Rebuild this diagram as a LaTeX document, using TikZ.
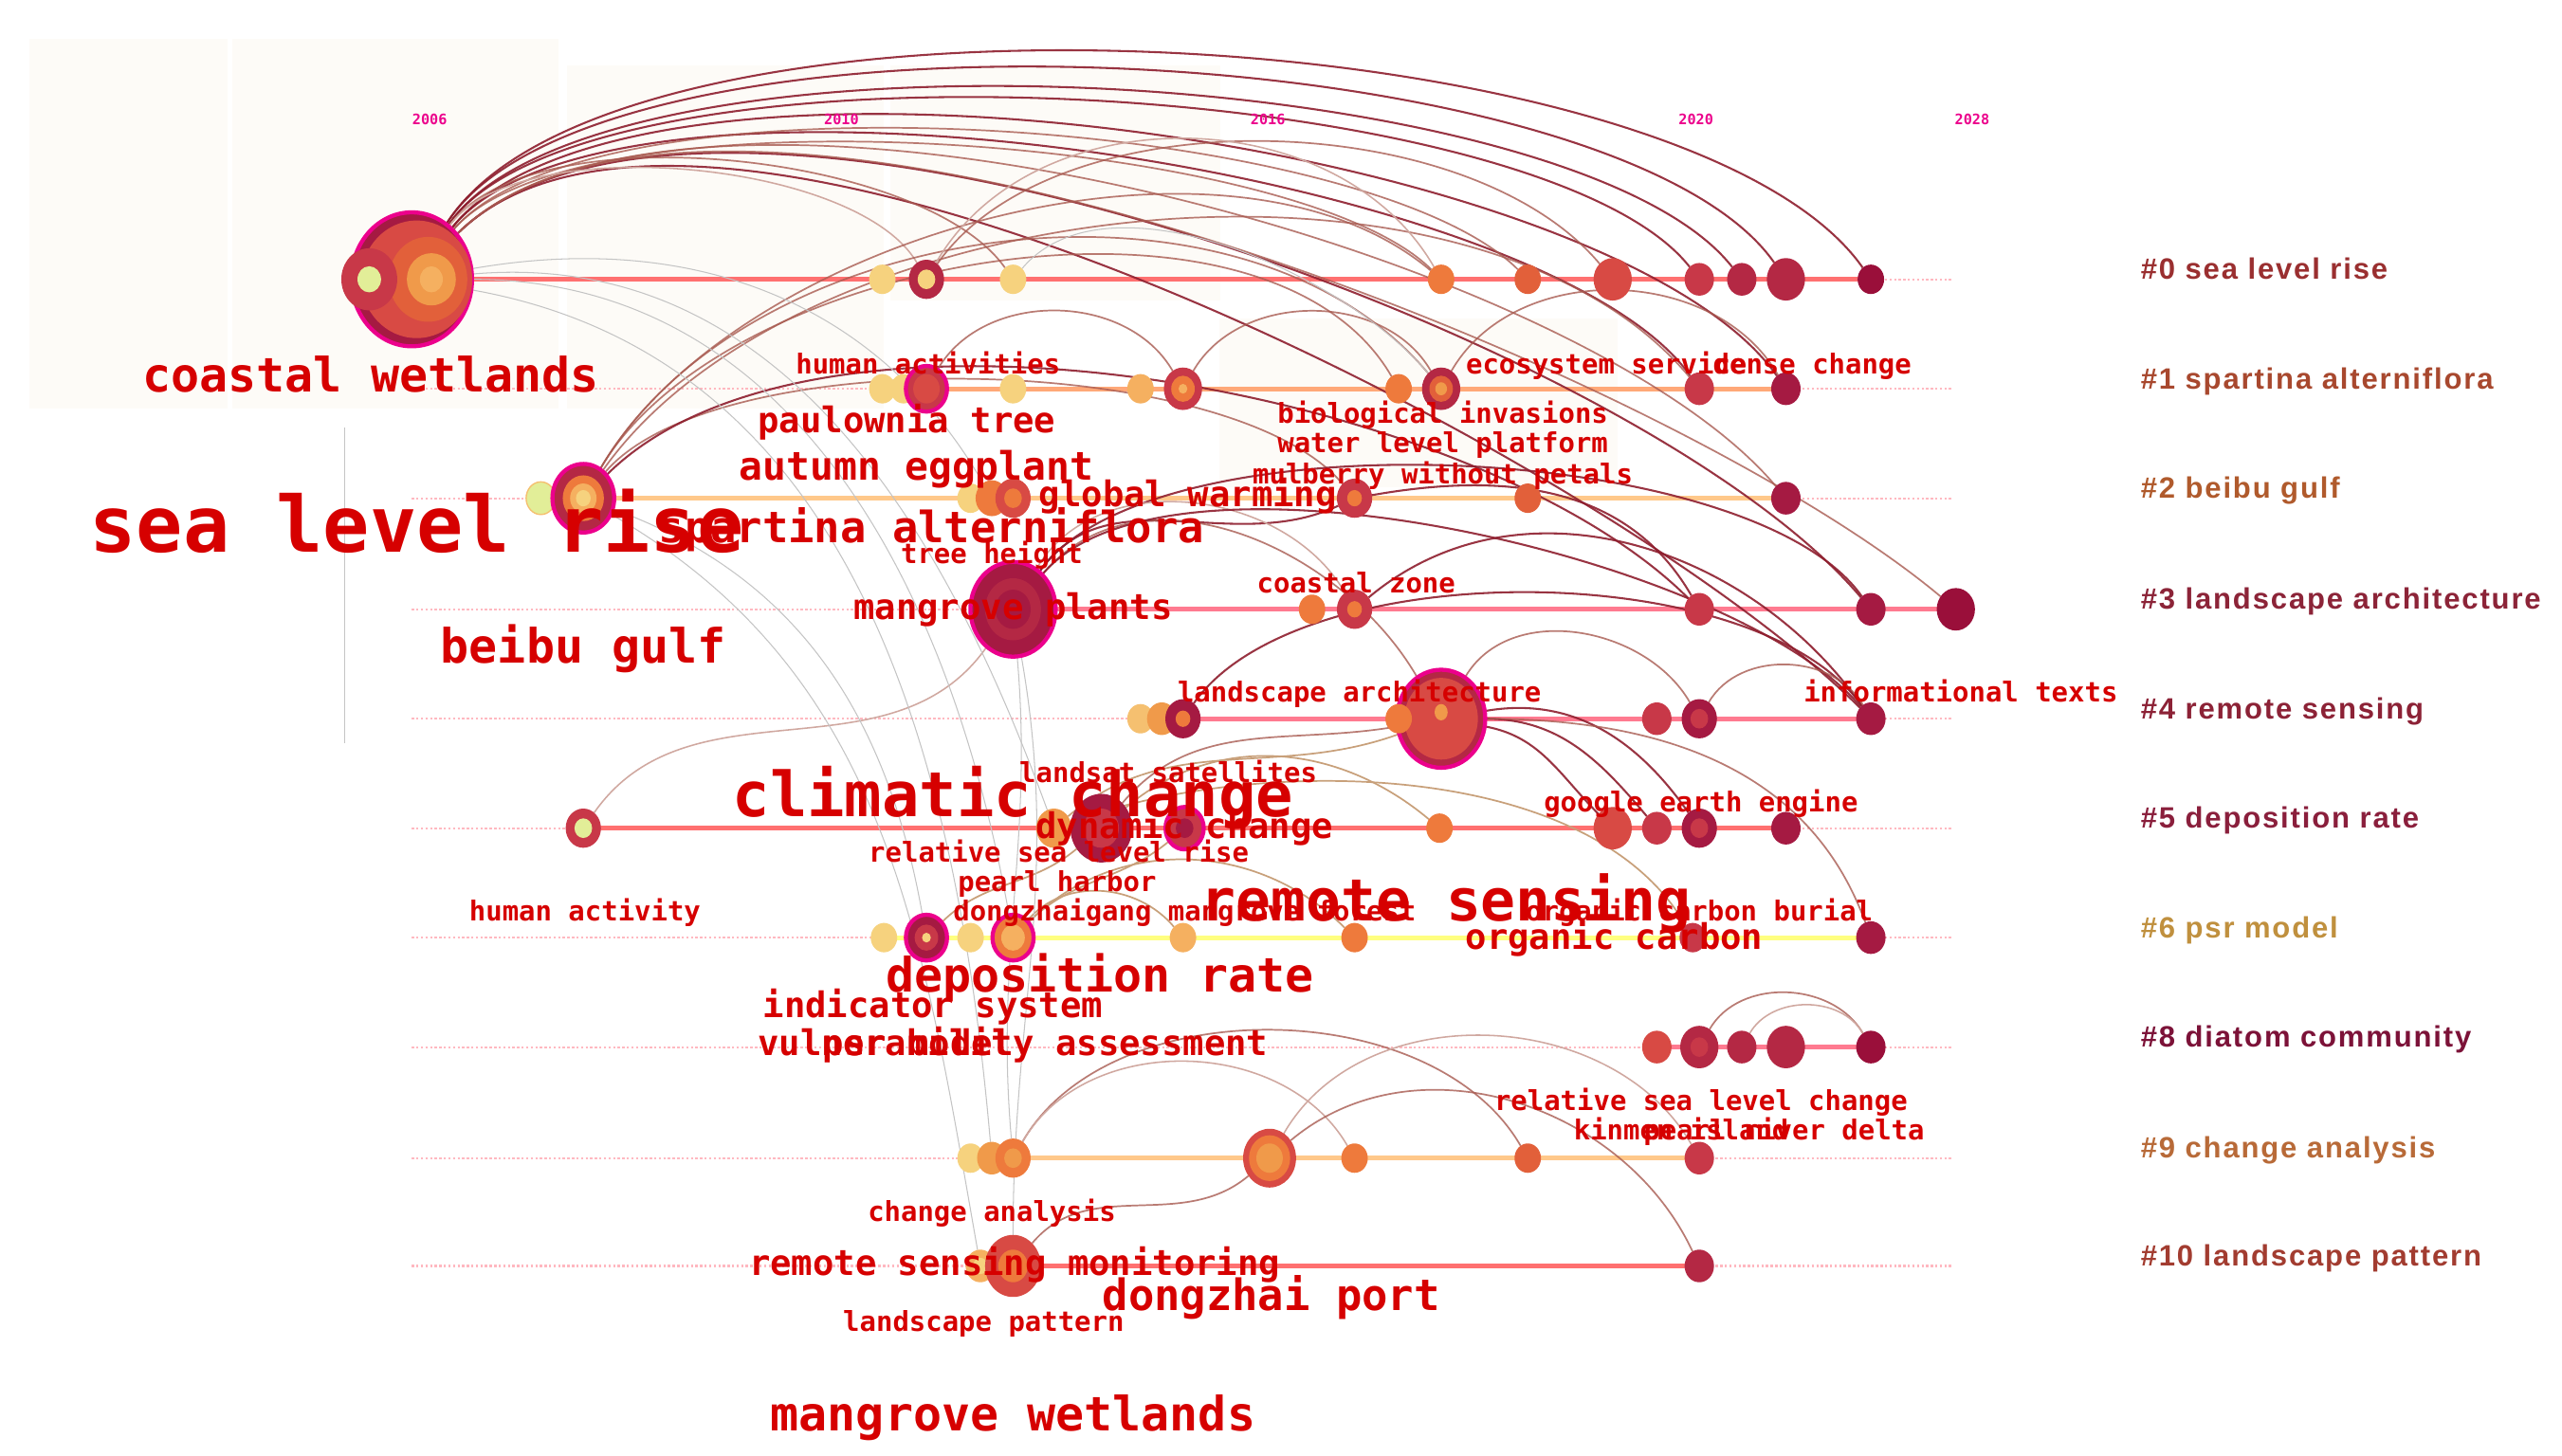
\documentclass[tikz,border=0pt]{standalone}
\usepackage{fontspec}
\usetikzlibrary{shapes.geometric}
\newfontfamily\kwf{DejaVu Sans Mono}
\newfontfamily\clf{Liberation Sans}[LetterSpace=6]
\pgfdeclarelayer{back}\pgfdeclarelayer{arcs}
\pgfsetlayers{back,arcs,main}
\definecolor{cream}{HTML}{FDFBF7}
\definecolor{yel}{HTML}{F6D27E}
\definecolor{yel2}{HTML}{F5C070}
\definecolor{lgr}{HTML}{E2EE98}
\definecolor{org}{HTML}{EE7A3C}
\definecolor{org2}{HTML}{F09A4A}
\definecolor{org3}{HTML}{F5B060}
\definecolor{ored}{HTML}{E2603A}
\definecolor{red1}{HTML}{D84A44}
\definecolor{red2}{HTML}{C83848}
\definecolor{crim}{HTML}{B42844}
\definecolor{crim2}{HTML}{A51A42}
\definecolor{crim3}{HTML}{9A0F3A}
\definecolor{kwred}{HTML}{D60000}
\definecolor{cdk}{HTML}{8E1E2E}
\definecolor{cmd}{HTML}{A85A50}
\definecolor{clt}{HTML}{D0A8A0}
\definecolor{ctan}{HTML}{C8A07A}
\definecolor{cgy}{HTML}{C4C4C4}
\definecolor{cdot}{HTML}{FFB8C0}
\definecolor{tlr}{HTML}{FF7070}
\definecolor{tlo}{HTML}{FFA878}
\definecolor{tll}{HTML}{FFC88A}
\definecolor{tlp}{HTML}{FF7A90}
\definecolor{tly}{HTML}{FFFF80}
\definecolor{c0}{HTML}{9A2F30}
\definecolor{c1}{HTML}{A8482E}
\definecolor{c2}{HTML}{B05A2C}
\definecolor{c3}{HTML}{8C2438}
\definecolor{c4}{HTML}{8C2236}
\definecolor{c5}{HTML}{8A1F3C}
\definecolor{c6}{HTML}{C0903E}
\definecolor{c8}{HTML}{7C1238}
\definecolor{c9}{HTML}{B86A38}
\definecolor{c10}{HTML}{A23C30}
\newcommand\fsz[1]{\fontsize{#1}{#1}\selectfont}
\tikzset{
 nd/.style={ellipse,inner sep=0,outer sep=0},
 kw/.style={text=kwred,inner sep=0,anchor=base},
 ks/.style={kw,font=\kwf\bfseries\fsz{16.8}},
 km/.style={kw,font=\kwf\bfseries\fsz{21.6}},
 kml/.style={kw,font=\kwf\bfseries\fsz{24}},
 kl/.style={kw,font=\kwf\bfseries\fsz{26.4}},
 kxl/.style={kw,font=\kwf\bfseries\fsz{29}},
 cl/.style={anchor=base west,inner sep=0,font=\clf\bfseries\fsz{18}},
 yr/.style={text=magenta,inner sep=0,font=\kwf\bfseries\fsz{8.8}},
 adk/.style={draw=cdk,line width=1.2pt,draw opacity=.9},
 amd/.style={draw=cmd,line width=1pt,draw opacity=.8},
 alt/.style={draw=clt,line width=.9pt},
 atan/.style={draw=ctan,line width=1pt},
 agy/.style={draw=cgy,line width=.6pt},
 dotl/.style={draw=cdot,line width=1.2pt,dash pattern=on 1.4pt off 1.4pt},
 tl/.style={line width=3pt},
}
\newcommand\nd[5]{\node[nd,fill=#5,minimum width=1.8*#4pt,minimum height=2*#4pt] (#1) at (#2,#3) {};}
\newcommand\ndm[5]{\node[nd,fill=#5,draw=magenta,line width=2.5pt,minimum width=1.8*#4pt,minimum height=2*#4pt] (#1) at (#2,#3) {};}
\newcommand\cn[3]{\fill[#3] (#1) ellipse[x radius=0.9*#2pt,y radius=#2pt];}
\begin{document}
\begin{tikzpicture}[x=1pt,y=-1pt]
\useasboundingbox (0,0) rectangle (1568,891);
\begin{pgfonlayer}{back}
\fill[white] (0,0) rectangle (1568,891);
\fill[cream] (18,24) rectangle (139,250);
\fill[cream] (142,24) rectangle (342,250);
\fill[cream] (347,40) rectangle (541,250);
\fill[cream] (545,40) rectangle (747,184);
\fill[cream] (746,195) rectangle (990,298);
\draw[cgy,line width=.8pt] (211,262) -- (211,455);
\foreach \yy in {171,238,305,373,440,507,574,641,709,775}
  \draw[dotl] (252,\yy) -- (1195,\yy);
\end{pgfonlayer}
% year labels
\node[yr] (y2006) at (263,73) {2006};
\node[yr] (y2010) at (515,73) {2010};
\node[yr] (y2016) at (776,73) {2016};
\node[yr] (y2020) at (1038,73) {2020};
\node[yr] (y2028) at (1207,73) {2028};
% ---------- nodes row 0
\ndm{cw}{252}{171}{41}{crim2}
\fill[red1] (255,171) ellipse[x radius=34pt,y radius=36pt];
\fill[ored] (262,171) ellipse[x radius=24pt,y radius=26pt];
\fill[org2] (264,171) ellipse[x radius=15pt,y radius=16pt];
\fill[org3] (264,171) ellipse[x radius=7pt,y radius=8pt];
\nd{cw2}{226}{171}{19}{red2}
\cn{cw2}{8}{lgr}
\nd{a0a}{540}{171}{9}{yel}
\nd{a0b}{567}{171}{12}{crim}\cn{a0b}{6}{yel}
\nd{a0c}{620}{171}{9}{yel}
\nd{a0d}{882}{171}{9}{org}
\nd{a0e}{935}{171}{9}{ored}
\nd{a0f}{987}{171}{13}{red1}
\nd{a0g}{1040}{171}{10}{red2}
\nd{a0h}{1066}{171}{10}{crim}
\nd{a0i}{1093}{171}{13}{crim}
\nd{a0j}{1145}{171}{9}{crim3}
% row 1
\nd{a1a}{540}{238}{9}{yel}
\nd{a1b}{553}{238}{9}{yel}
\ndm{a1c}{567}{238}{14}{red2}\cn{a1c}{9}{red1}
\nd{a1d}{620}{238}{9}{yel}
\nd{a1e}{698}{238}{9}{org3}
\nd{a1f}{724}{238}{13}{red2}\cn{a1f}{8}{org}\cn{a1f}{3}{org3}
\nd{a1g}{856}{238}{9}{org}
\nd{a1h}{882}{238}{13}{crim}\cn{a1h}{8}{ored}\cn{a1h}{4}{org2}
\nd{a1i}{1040}{238}{10}{red2}
\nd{a1j}{1093}{238}{10}{crim2}
% row 2
\node[nd,fill=lgr,draw=yel2,line width=.8pt,minimum width=18pt,minimum height=20pt] (a2a) at (331,305) {};
\ndm{slr}{357}{305}{21}{crim}
\cn{slr}{14}{org}\cn{slr}{9}{org3}\cn{slr}{5}{yel}
\nd{a2c}{594}{305}{9}{yel}
\nd{a2d}{607}{305}{11}{org}
\nd{a2e}{620}{305}{12}{red1}\cn{a2e}{6}{org}
\nd{a2f}{829}{305}{12}{red2}\cn{a2f}{5}{org}
\nd{a2g}{935}{305}{9}{ored}
\nd{a2h}{1093}{305}{10}{crim2}
% row 3
\ndm{mp}{620}{373}{29}{crim2}
\cn{mp}{19}{crim}\cn{mp}{12}{crim2}
\nd{a3b}{803}{373}{9}{org}
\nd{a3c}{829}{373}{12}{red2}\cn{a3c}{5}{org}
\nd{a3d}{1040}{373}{10}{red2}
\nd{a3e}{1145}{373}{10}{crim2}
\nd{a3f}{1197}{373}{13}{crim3}
% row 4
\nd{a4a}{698}{440}{9}{yel2}
\nd{a4b}{711}{440}{10}{org2}
\nd{a4c}{724}{440}{12}{crim2}\cn{a4c}{5}{org}
\ndm{rs}{882}{440}{30}{crim}
\cn{rs}{25}{red1}\fill[org2] (882,436) ellipse[x radius=4pt,y radius=5pt];
\nd{a4d}{856}{440}{9}{org}
\nd{a4f}{1014}{440}{10}{red2}
\nd{a4g}{1040}{440}{12}{crim2}\cn{a4g}{6}{red2}
\nd{a4h}{1145}{440}{10}{crim2}
% row 5
\nd{a5a}{357}{507}{12}{red2}\cn{a5a}{6}{lgr}
\nd{cc}{674}{507}{21}{crim2}\cn{cc}{12}{red2}
\nd{a5b}{645}{507}{12}{org2}
\ndm{a5d}{725}{507}{13}{red2}\cn{a5d}{6}{crim2}
\nd{a5e}{881}{507}{9}{org}
\nd{a5f}{987}{507}{13}{red1}
\nd{a5g}{1014}{507}{10}{red2}
\nd{a5h}{1040}{507}{12}{crim2}\cn{a5h}{6}{red2}
\nd{a5i}{1093}{507}{10}{crim2}
% row 6
\nd{a6a}{541}{574}{9}{yel}
\ndm{a6b}{567}{574}{14}{crim2}\cn{a6b}{8}{red2}\cn{a6b}{3}{yel}
\nd{a6c}{594}{574}{9}{yel}
\ndm{a6d}{620}{574}{14}{org}\cn{a6d}{8}{org3}
\nd{a6e}{724}{574}{9}{org3}
\nd{a6f}{829}{574}{9}{org}
\nd{a6g}{1036}{574}{9}{red2}
\nd{a6h}{1145}{574}{10}{crim2}
% row 8
\nd{a8a}{1014}{641}{10}{red1}
\nd{a8b}{1040}{641}{13}{crim}\cn{a8b}{6}{red2}
\nd{a8c}{1066}{641}{10}{crim}
\nd{a8d}{1093}{641}{13}{crim}
\nd{a8e}{1145}{641}{10}{crim3}
% row 9
\nd{a9a}{594}{709}{9}{yel}
\nd{a9b}{607}{709}{10}{org2}
\nd{a9c}{620}{709}{12}{org}\cn{a9c}{6}{org2}
\nd{a9d}{777}{709}{18}{red1}\cn{a9d}{14}{org}\cn{a9d}{9}{org2}
\nd{a9e}{829}{709}{9}{org}
\nd{a9f}{935}{709}{9}{ored}
\nd{a9g}{1040}{709}{10}{red2}
% row 10
\nd{a10a}{600}{775}{10}{org3}\cn{a10a}{5}{yel}
\nd{a10b}{620}{775}{19}{red1}\cn{a10b}{10}{org}
\nd{a10c}{1040}{775}{10}{crim}
% ---------- timelines
\begin{pgfonlayer}{back}
\draw[tl,tlr] (cw.center) -- (a0j.center);
\draw[tl,tlo] (a1a.center) -- (a1j.center);
\draw[tl,tll] (slr.center) -- (a2h.center);
\draw[tl,tlp] (mp.center) -- (a3f.center);
\draw[tl,tlp] (a4a.center) -- (a4h.center);
\draw[tl,tlr] (a5a.center) -- (a5i.center);
\draw[tl,tly] (a6a.center) -- (a6h.center);
\draw[tl,tlp] (a8a.center) -- (a8e.center);
\draw[tl,tll] (a9a.center) -- (a9g.center);
\draw[tl,tlr] (a10a.center) -- (a10c.center);
\end{pgfonlayer}
% ---------- arcs
\begin{pgfonlayer}{arcs}
\draw[adk] (cw) to[out=58,in=125,looseness=.56] (a0j);
\draw[adk] (cw) to[out=58,in=125,looseness=.54] (a0i);
\draw[adk] (cw) to[out=56,in=128,looseness=.52] (a0h);
\draw[adk] (cw) to[out=56,in=128,looseness=.5] (a0g);
\draw[adk] (cw) to[out=52,in=125,looseness=.55] (a1j);
\draw[adk] (cw) to[out=52,in=125,looseness=.52] (a1i);
\draw[adk] (cw) to[out=45,in=130,looseness=.6] (a3e);
\draw[adk] (cw) to[out=45,in=135,looseness=.6] (a4h);
\draw[amd] (cw) to[out=45,in=140,looseness=.6] (a3f);
\draw[amd] (cw) to[out=50,in=135,looseness=.52] (a0e);
\draw[amd] (cw) to[out=50,in=135,looseness=.5] (a0d);
\draw[amd] (cw) to[out=45,in=130,looseness=.6] (a2h);
\draw[amd] (cw) to[out=55,in=125,looseness=.65] (a0c);
\draw[alt] (cw) to[out=55,in=120,looseness=.65] (a0b);
\draw[amd] (a0b) to[out=55,in=130,looseness=.8] (a0f);
\draw[amd] (slr) to[out=60,in=130,looseness=.9] (a1h);
\draw[amd] (slr) to[out=60,in=120,looseness=.8] (a1g);
\draw[amd] (slr) to[out=60,in=140,looseness=.8] (a0d);
\draw[amd] (slr) to[out=55,in=130,looseness=.8] (a1i);
\draw[amd] (slr) to[out=50,in=130,looseness=.6] (a2f);
\draw[adk] (slr) to[out=45,in=135,looseness=.7] (a3d);
\draw[amd] (a1c) to[out=60,in=120] (a1f);
\draw[amd] (a1f) to[out=60,in=120] (a1h);
\draw[amd] (a1h) to[out=60,in=120] (a1j);
\draw[alt] (a0b) to[out=60,in=120] (a0d);
\draw[adk] (mp) to[out=55,in=205] (a2f);
\draw[adk] (a2f) to[out=10,in=120] (a3d);
\draw[adk] (a3c) to[out=40,in=125] (a4h);
\draw[adk] (mp) to[out=55,in=125,looseness=.6] (a3e);
\draw[alt] (mp) to[out=60,in=120] (a3c);
\draw[amd] (mp) to[out=50,in=120] (rs);
\draw[adk] (mp) to[out=50,in=130,looseness=.6] (a4h);
\draw[adk] (a4c) to[out=55,in=125,looseness=.7] (a4h);
\draw[amd] (rs) to[out=60,in=120] (a4g);
\draw[amd] (a4g) to[out=60,in=120] (a4h);
\draw[adk] (rs) to[out=-10,in=135] (a5f);
\draw[adk] (rs) to[out=0,in=130] (a5g);
\draw[adk] (rs) to[out=10,in=125] (a5h);
\draw[amd] (rs) to[out=0,in=110] (a6h);
\draw[amd] (cc) to[out=50,in=190] (rs);
\draw[atan] (a5b) to[out=40,in=200] (rs);
\draw[atan] (cc) to[out=40,in=140] (a5e);
\draw[alt] (a5a) to[out=55,in=235] (mp);
\draw[atan] (a6d) to[out=45,in=135] (a6f);
\draw[atan] (a6b) to[out=45,in=220] (cc);
\draw[atan] (a6d) to[out=45,in=220] (a5d);
\draw[atan] (a5b) to[out=20,in=120,looseness=.8] (a6g);
\draw[atan] (a6d) to[out=50,in=130] (a6e);
\draw[amd] (a8b) to[out=60,in=120] (a8e);
\draw[alt] (a8c) to[out=60,in=120] (a8e);
\draw[amd] (a9c) to[out=60,in=120,looseness=.9] (a9f);
\draw[alt] (a9c) to[out=60,in=120] (a9e);
\draw[alt] (a9d) to[out=60,in=120] (a9g);
\draw[amd] (a9d) to[out=40,in=115] (a10c);
\draw[amd] (a10b) to[out=50,in=220] (a9d);
\draw[agy] (cw) to[out=0,in=100] (a6d);
\draw[agy] (cw) to[out=5,in=110] (a5b);
\draw[agy] (cw) to[out=-10,in=95] (a9b);
\draw[agy] (cw) to[out=10,in=120] (a2d);
\draw[agy] (slr) to[out=-20,in=100] (a6b);
\draw[agy] (slr) to[out=-30,in=100] (a10a);
\draw[agy] (mp) to[out=-85,in=95] (a9c);
\draw[agy] (mp) to[out=-80,in=90] (a10b);
\draw[agy] (a0c) to[out=50,in=130,looseness=.8] (a1h);
\end{pgfonlayer}
% ---------- keyword labels
\node[kw,font=\kwf\bfseries\fsz{47.5}] (t-slr) at (255,338) {sea level rise};
\node[kxl] (t-cw) at (227,240) {coastal wetlands};
\node[kxl] (t-bg) at (357,406) {beibu gulf};
\node[kw,font=\kwf\bfseries\fsz{38}] (t-cc) at (620,500) {climatic change};
\node[kw,font=\kwf\bfseries\fsz{35.6}] (t-rs) at (885,564) {remote sensing};
\node[kxl] (t-mw) at (620,876) {mangrove wetlands};
\node[kxl] (t-dr) at (673,607) {deposition rate};
\node[kl] (t-sa) at (570,332) {spartina alterniflora};
\node[kl] (t-dp) at (778,802) {dongzhai port};
\node[kml] (t-ae) at (561,294) {autumn eggplant};
\node[km] (t-pt) at (555,265) {paulownia tree};
\node[km] (t-mp) at (620,379) {mangrove plants};
\node[km] (t-gw) at (727,310) {global warming};
\node[km] (t-dc) at (725,513) {dynamic change};
\node[km] (t-oc) at (988,581) {organic carbon};
\node[km] (t-is) at (571,623) {indicator system};
\node[km] (t-va) at (620,646) {vulnerability assessment};
\node[km] (t-psr) at (562,646) {psr model};
\node[km] (t-rsm) at (621,781) {remote sensing monitoring};
\node[ks] (t-ha) at (568,229) {human activities};
\node[ks,anchor=base west] (t-es) at (897,229) {ecosystem service};
\node[ks,anchor=base east] (t-dch) at (1170,229) {dense change};
\node[ks] (t-bi) at (883,259) {biological invasions};
\node[ks] (t-wl) at (883,277) {water level platform};
\node[ks] (t-mb) at (883,296) {mulberry without petals};
\node[ks] (t-th) at (607,345) {tree height};
\node[ks] (t-cz) at (830,363) {coastal zone};
\node[ks] (t-la) at (832,430) {landscape architecture};
\node[ks] (t-it) at (1200,430) {informational texts};
\node[ks] (t-ls) at (715,479) {landsat satellites};
\node[ks] (t-ge) at (1041,497) {google earth engine};
\node[ks] (t-rslr) at (648,528) {relative sea level rise};
\node[ks] (t-ph) at (647,546) {pearl harbor};
\node[ks] (t-hay) at (358,564) {human activity};
\node[ks] (t-dmf) at (725,564) {dongzhaigang mangrove forest};
\node[ks] (t-ocb) at (1040,564) {organic carbon burial};
\node[ks] (t-rslc) at (1041,680) {relative sea level change};
\node[ks,anchor=base west] (t-ki) at (963,698) {kinmen island};
\node[ks,anchor=base east] (t-prd) at (1178,698) {pearl river delta};
\node[ks] (t-ca) at (607,748) {change analysis};
\node[ks] (t-lp) at (602,815) {landscape pattern};
% ---------- cluster labels
\node[cl,text=c0] (k0) at (1310,171) {\#0 sea level rise};
\node[cl,text=c1] (k1) at (1310,238) {\#1 spartina alterniflora};
\node[cl,text=c2] (k2) at (1310,305) {\#2 beibu gulf};
\node[cl,text=c3] (k3) at (1310,373) {\#3 landscape architecture};
\node[cl,text=c4] (k4) at (1310,440) {\#4 remote sensing};
\node[cl,text=c5] (k5) at (1310,507) {\#5 deposition rate};
\node[cl,text=c6] (k6) at (1310,574) {\#6 psr model};
\node[cl,text=c8] (k8) at (1310,641) {\#8 diatom community};
\node[cl,text=c9] (k9) at (1310,709) {\#9 change analysis};
\node[cl,text=c10] (k10) at (1310,775) {\#10 landscape pattern};
\end{tikzpicture}
\end{document}
